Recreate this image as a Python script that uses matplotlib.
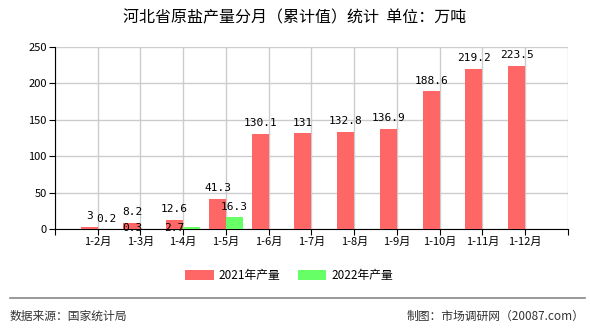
import matplotlib as mpl
mpl.use('Agg')
import matplotlib.pyplot as plt
import numpy as np

plt.rcParams['font.family'] = ['Noto Sans CJK SC', 'DejaVu Sans']

months = ['1-2月', '1-3月', '1-4月', '1-5月', '1-6月', '1-7月', '1-8月',
          '1-9月', '1-10月', '1-11月', '1-12月']
v2021 = [3, 8.2, 12.6, 41.3, 130.1, 131, 132.8, 136.9, 188.6, 219.2, 223.5]
v2022 = [0.2, 0.3, 2.7, 16.3]
lab2021 = ['3', '8.2', '12.6', '41.3', '130.1', '131', '132.8', '136.9', '188.6', '219.2', '223.5']
lab2022 = ['0.2', '0.3', '2.7', '16.3']

red = '#FF6666'
green = '#66FF66'

fig = plt.figure(figsize=(5.9, 3.3), dpi=100)
ax = fig.add_axes([0.0932, 0.306, 0.8695, 0.5525])

x = np.arange(1, len(months) + 1)
w = 0.4
ax.bar(x - w / 2, v2021, w, color=red, label='2021年产量', zorder=3)
x2 = x[:len(v2022)]
ax.bar(x2 + w / 2, v2022, w, color=green, label='2022年产量', zorder=3)

mono = 'DejaVu Sans Mono'
for xi, v, s in zip(x, v2021, lab2021):
    ax.text(xi - w / 2, v + 8, s, ha='center', va='bottom', fontsize=8, family=mono, zorder=4)
# the small 2022 labels sit where the original left them
for i, (xi, v, s) in enumerate(zip(x2, v2022, lab2022)):
    if i in (1, 2):
        ax.text(xi - w / 2, 1.2, s, ha='center', va='center', fontsize=8, family=mono, zorder=4)
    else:
        ax.text(xi + w / 2, v + 7, s, ha='center', va='bottom', fontsize=8, family=mono, zorder=4)

ax.set_xlim(0, 12)
ax.set_ylim(0, 250)
ax.set_yticks(np.arange(0, 251, 50))
ax.set_xticks(np.arange(0, 13))
ax.set_xticklabels([''] + months + [''], fontsize=8)
ax.tick_params(axis='y', labelsize=8, length=4, pad=2)
ax.tick_params(axis='x', length=4, pad=2)
ax.grid(True, color='#cccccc', linewidth=1, zorder=0)
for s in ['top', 'right']:
    ax.spines[s].set_visible(False)
ax.spines['left'].set_color('black')
ax.spines['bottom'].set_color('black')

fig.text(0.5, 0.947, '河北省原盐产量分月（累计值）统计  单位：万吨', ha='center', va='center', fontsize=11.5)

fig.legend(loc='center', bbox_to_anchor=(0.49, 0.164), ncol=2, frameon=False, fontsize=8.5,
           handlelength=2.4, handleheight=0.9, columnspacing=1.5, handletextpad=0.4)

fig.add_artist(plt.Line2D([0.017, 0.991], [0.097, 0.097], color='#888888', linewidth=1.2))
fig.text(0.017, 0.042, '数据来源：国家统计局', ha='left', va='center', fontsize=8.5, color='#333333')
fig.text(0.991, 0.042, '制图：市场调研网（20087.com）', ha='right', va='center', fontsize=8.5, color='#333333')

plt.savefig('out.png', dpi=100)
